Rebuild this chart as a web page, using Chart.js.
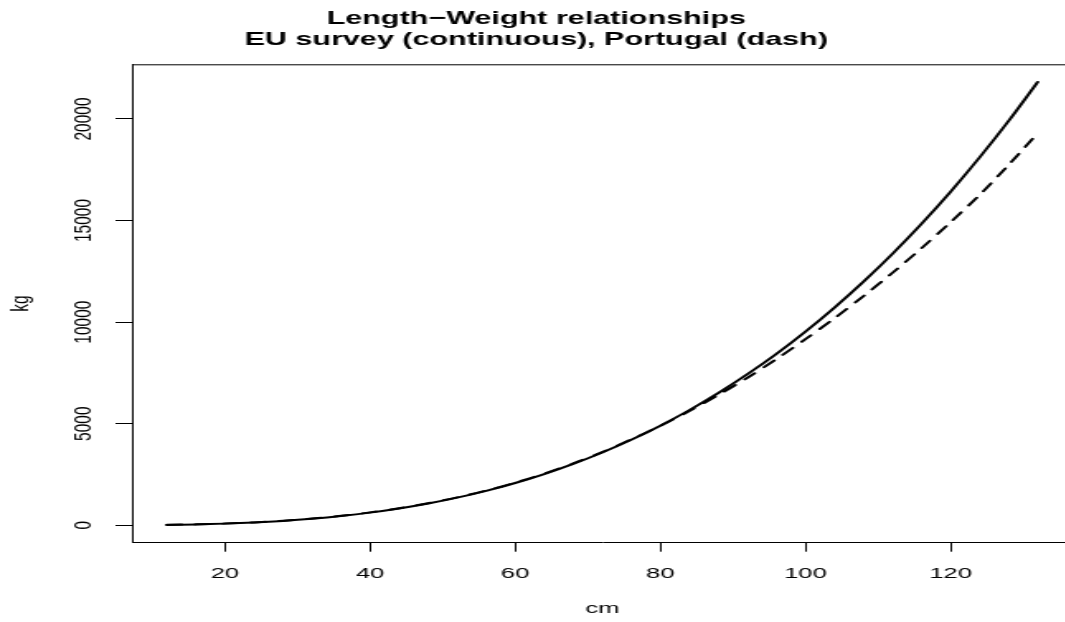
<!DOCTYPE html>
<html>
<head>
<meta charset="utf-8">
<script src="https://cdn.jsdelivr.net/npm/chart.js@4.4.1/dist/chart.umd.min.js"></script>
<style>
  html, body { margin: 0; padding: 0; background: #fff; overflow: hidden; }
  #lwChart { display: block; }
</style>
</head>
<body>
<!-- canvas is drawn narrow and stretched wide -->
<canvas id="lwChart" width="660" height="622" style="width:1089px;height:622px"></canvas>
<script>
// length classes (cm)
const lengthCm = [12, 16, 20, 24, 28, 32, 36, 40, 44, 48, 52, 56, 60, 64, 68, 72, 76, 80, 84, 88, 92, 96, 100, 104, 108, 112, 116, 120, 124, 128, 132];
// weight, EU survey relationship
const euSurveyKg = [17, 40, 79, 135, 214, 319, 453, 620, 824, 1068, 1356, 1693, 2079, 2520, 3020, 3581, 4206, 4901, 5667, 6510, 7435, 8437, 9532, 10715, 11991, 13366, 14840, 16418, 18106, 19902, 21820];
// weight, Portugal relationship
const portugalKg = [19, 43, 82, 140, 220, 326, 462, 632, 837, 1083, 1372, 1708, 2095, 2540, 3040, 3600, 4230, 4890, 5620, 6410, 7260, 8180, 9160, 10190, 11280, 12430, 13640, 14920, 16260, 17740, 19300];

const xTicks = [20, 40, 60, 80, 100, 120];
const yTicks = [0, 5000, 10000, 15000, 20000];
const xRange = [7.2, 136.8];
const yRange = [-860, 22690];

const FONT = "'Liberation Sans', Arial, Helvetica, sans-serif";

let toPoints = (ys) => lengthCm.map((x, i) => ({ x: x, y: ys[i] }));

// y tick labels written sideways + the top/right edges of the frame
const frameAndLabels = {
    id: 'frameAndLabels',
    afterDraw(chart) {
        const ctx = chart.ctx;
        const area = chart.chartArea;
        const yScale = chart.scales.y;
        ctx.save();
        ctx.strokeStyle = '#000';
        ctx.lineWidth = 1;
        ctx.beginPath();
        ctx.moveTo(area.left, area.top + 0.5);
        ctx.lineTo(area.right, area.top + 0.5);
        ctx.lineTo(area.right, area.bottom);
        ctx.stroke();

        ctx.fillStyle = '#000';
        ctx.font = '15.5px ' + FONT;
        ctx.textAlign = 'center';
        ctx.textBaseline = 'middle';
        yScale.ticks.forEach((t) => {
            const py = yScale.getPixelForValue(t.value);
            ctx.save();
            ctx.translate(51, py);
            ctx.rotate(-Math.PI / 2);
            ctx.fillText(String(t.value), 0, 0);
            ctx.restore();
        });
        ctx.restore();
    }
};

let setLwChartConfig = () => {
    return {
        type: 'line',
        data: {
            datasets: [{
                label: 'EU survey',
                data: toPoints(euSurveyKg),
                borderColor: '#000',
                borderWidth: 2,
                borderCapStyle: 'round',
                pointRadius: 0,
                tension: 0.3,
                fill: false
            }, {
                label: 'Portugal',
                data: toPoints(portugalKg),
                borderColor: '#000',
                borderWidth: 2,
                borderDash: [9, 8],
                borderCapStyle: 'round',
                pointRadius: 0,
                tension: 0.3,
                fill: false
            }]
        },
        options: {
            responsive: false,
            maintainAspectRatio: false,
            animation: false,
            layout: { padding: { left: 0, right: 10, top: 0, bottom: 0 } },
            plugins: {
                legend: { display: false },
                tooltip: { enabled: false },
                title: {
                    display: true,
                    text: ['Length\u2212Weight relationships', 'EU survey (continuous), Portugal (dash)'],
                    color: '#000',
                    font: { family: FONT, size: 18.5, weight: 'bold', lineHeight: 1.1 },
                    padding: { top: 9, bottom: 14.6 }
                }
            },
            scales: {
                x: {
                    type: 'linear',
                    min: xRange[0],
                    max: xRange[1],
                    afterFit: (scale) => { scale.height = 79.3; },
                    afterBuildTicks: (scale) => { scale.ticks = xTicks.map((v) => ({ value: v })); },
                    ticks: {
                        color: '#000',
                        padding: 13,
                        maxRotation: 0,
                        autoSkip: false,
                        font: { family: FONT, size: 15.5 }
                    },
                    grid: {
                        drawOnChartArea: false,
                        drawTicks: true,
                        tickLength: 9,
                        tickColor: '#000',
                        tickWidth: 1
                    },
                    border: { display: true, color: '#000', width: 1 },
                    title: {
                        display: true,
                        text: 'cm',
                        color: '#000',
                        font: { family: FONT, size: 15.5 },
                        padding: { top: 0, bottom: 3.7 }
                    }
                },
                y: {
                    type: 'linear',
                    min: yRange[0],
                    max: yRange[1],
                    afterFit: (scale) => { scale.width = 80; },
                    afterBuildTicks: (scale) => { scale.ticks = yTicks.map((v) => ({ value: v })); },
                    ticks: { display: false },
                    grid: {
                        drawOnChartArea: false,
                        drawTicks: true,
                        tickLength: 10,
                        tickColor: '#000',
                        tickWidth: 1
                    },
                    border: { display: true, color: '#000', width: 1 },
                    title: {
                        display: true,
                        text: 'kg',
                        color: '#000',
                        font: { family: FONT, size: 15.5 },
                        padding: { top: 3.9, bottom: 0 }
                    }
                }
            }
        },
        plugins: [frameAndLabels]
    };
};

let lwChart = new Chart(document.getElementById('lwChart'), setLwChartConfig());
</script>
</body>
</html>
